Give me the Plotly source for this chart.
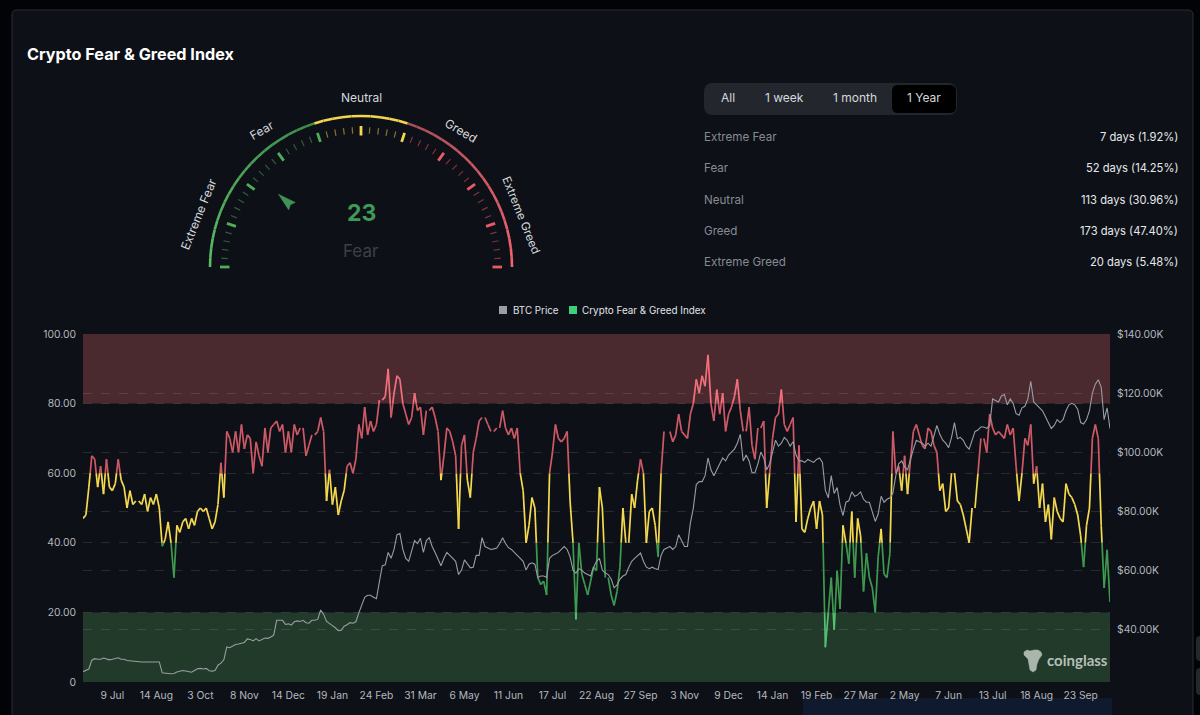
import math
import plotly.graph_objects as go

# ---------- data ----------
tick_labels = ["9 Jul","14 Aug","3 Oct","8 Nov","14 Dec","19 Jan","24 Feb","31 Mar","6 May","11 Jun",
               "17 Jul","22 Aug","27 Sep","3 Nov","9 Dec","14 Jan","19 Feb","27 Mar","2 May","7 Jun",
               "13 Jul","18 Aug","23 Sep"]
fng = [47,48,56,65,64,56,62,54,64,56,55,57,64,58,56,
       50,55,51,52,52,51,54,49,53,51,54,50,39,41,46,
       40,30,45,43,46,47,44,47,45,49,50,49,50,47,44,
       46,51,63,53,72,70,66,72,66,74,67,71,70,60,69,
       65,62,73,66,73,74,75,72,74,66,72,66,74,71,73,
       73,65,68,71,71,72,76,72,52,61,51,56,48,52,55,
       62,63,60,64,74,70,79,71,75,72,74,81,81,82,90,
       76,83,88,87,80,77,74,76,83,78,79,71,78,78,79,
       76,72,58,65,73,72,69,65,44,68,71,58,53,66,70,
       75,76,76,74,72,72,73,73,78,73,71,73,70,73,60,
       55,40,45,53,50,30,28,29,25,60,66,74,70,69,70,
       72,52,40,18,40,31,28,25,29,33,32,56,50,30,30,
       25,22,26,33,50,40,40,54,50,58,64,60,40,49,50,
       45,36,60,72,72,72,69,71,77,72,71,70,77,80,87,
       83,88,85,94,80,75,84,77,83,72,77,79,82,87,78,
       72,72,79,68,64,73,73,75,50,60,70,76,77,84,74,
       72,74,76,46,68,44,43,47,50,52,44,52,48,10,20,
       30,15,32,21,45,40,34,49,30,47,42,26,37,30,27,
       20,36,44,31,30,37,72,60,62,55,65,54,64,72,74,
       71,68,67,73,72,68,66,55,57,49,50,60,60,52,51,
       48,44,40,50,50,60,70,70,66,77,73,71,72,71,70,
       74,71,73,62,52,60,70,68,74,57,62,50,57,46,51,
       41,53,49,47,46,57,54,53,51,48,42,33,45,50,70,
       74,70,45,27,38,23]
btc_k = [25.6,26,26.5,29.5,30,29.8,29.8,30.2,29.9,29.6,29.8,30,30.3,29.8,29.8,
         29.4,29.3,29,29,28.8,28.9,28.9,28.9,29,29.1,29,28.9,25.2,25.2,25,
         24.9,25,25.5,25.7,26,25.8,25.5,25.4,26,26.6,26.7,26.5,26.7,25.9,25.8,
         26,27.8,28.5,29.6,34,33.7,34.3,34.8,35,35.2,35.5,36.7,36.5,36,36.8,
         36,36.5,37,36.9,37.3,38,43,43,43,41.6,41.8,41.4,42.5,42.8,42.6,
         43,42.2,42,43,43,43.3,46.5,45,42.6,42,41.2,40.5,39.5,39.6,41,
         41.5,42.2,42,42.5,45.5,48,50.8,51.5,51.5,50.8,50.3,56,61.5,61.8,66,
         64,67,72,72.4,67,64,63,66.5,70,69,70.8,66,70,71,68,
         66,64,61.5,64,66,65,64,63,58.5,60,63.5,62,60.8,61,65,
         65,71,68,67.5,67,67.2,67.5,69,71,69,67.6,67,66,65.3,64,
         63,60,62,62.5,62,57.5,58,58,57.5,64,65,65.5,66,67,68,
         67,64.5,60,59,60.5,60,59,58.5,58,61,63,64,60,59,58.5,
         57,54,55,57,58,58.5,61,63,64,65,65.8,63,61,60.5,61,
         60.5,60.2,65,67,67.5,68,67,68,72,70,68,68,76,81,89,
         90,90,92,98,94,92,94,96,98,97,99,100,101,103,106,
         97,99,97,93,93,96,100,98,94,96,100,104,102,103,105,
         104,102,103.5,99,97,97,96.5,97.5,97,96.5,97.5,98,96.5,87,84.5,
         92,86,88,82,78.5,83,83.5,86.5,85,85.5,86.5,84,83,83,80,
         76.5,79,85,83,84,84.5,86,92,96,97,95,94,98,101,104,
         103.5,103,102,103,102,106,109,106,104,103,101.5,105,110,104.5,105,
         104,102,101,104,107,107.5,108.5,108.5,108,109,118,117.5,117,119,119.5,
         116,118,116.5,113,112.5,115,115.5,118,124,117,116,115,114,112,110,
         108,109,111,110,111,114,116,116.5,116,114.5,110,109.5,111,114,120,
         123,124.5,122,111,115,108]
left_ticks = [0,20,40,60,80,100]
right_ticks_k = [40,60,80,100,120,140]
gauge_score = 23
gauge_state = "Fear"
gauge_labels = ["Extreme Fear","Fear","Neutral","Greed","Extreme Greed"]
period_buttons = ["All","1 week","1 month","1 Year"]
stat_names = ["Extreme Fear","Fear","Neutral","Greed","Extreme Greed"]
stat_values = ["7 days (1.92%)","52 days (14.25%)","113 days (30.96%)","173 days (47.40%)","20 days (5.48%)"]
assert len(fng) == len(btc_k), (len(fng), len(btc_k))

W, H = 1200, 715
CARD = "#0d1017"
FONT = "Inter"

# ---------- colour bands for the index line ----------
bands = [(0,20,"#55c070"),(20,40,"#3f9a50"),(40,60,"#f5d94e"),(60,80,"#cf5a66"),(80,100,"#f2707c")]
def band_series(lo, hi):
    xs, ys = [], []
    for i in range(len(fng)-1):
        a, b = fng[i], fng[i+1]
        ca = max(lo, min(hi, a)); cb = max(lo, min(hi, b))
        if b == a or ca == cb:
            continue
        ta = (ca-a)/(b-a); tb = (cb-a)/(b-a)
        xs += [i+ta, i+tb, None]; ys += [ca, cb, None]
    return xs, ys

fig = go.Figure()
idx = list(range(len(fng)))
fig.add_trace(go.Scatter(x=idx, y=btc_k, yaxis="y2", mode="lines", name="BTC Price",
                         line=dict(color="#9a9da3", width=1.1), hoverinfo="skip"))
for lo, hi, col in bands:
    xs, ys = band_series(lo, hi)
    fig.add_trace(go.Scatter(x=xs, y=ys, mode="lines", line=dict(color=col, width=1.7),
                             connectgaps=False, hoverinfo="skip", name="Crypto Fear & Greed Index",
                             showlegend=False))

# ---------- gauge (overlay axes in image units) ----------
CX, CY, R = 361, 267, 151
def pol(v, r):
    a = math.radians(180 - 1.8*v)
    return CX + r*math.cos(a), CY - r*math.sin(a)
def lerp(c1, c2, t):
    return "rgb(%d,%d,%d)" % tuple(c1[k]+(c2[k]-c1[k])*t for k in range(3))
def arc_color(v):
    if v < 40: return lerp((92,190,100),(62,140,78),v/40)
    if v < 60: return "#f2d650"
    return lerp((168,80,90),(245,100,112),(v-60)/40)
for v in range(0,100,2):
    x0,y0 = pol(v,R); xm,ym = pol(v+1,R); x1,y1 = pol(v+2,R)
    fig.add_trace(go.Scatter(x=[x0,xm,x1], y=[y0,ym,y1], xaxis="x3", yaxis="y3", mode="lines",
                             line=dict(color=arc_color(v+1), width=2.6), hoverinfo="skip", showlegend=False))
def tick_color(v):
    return (76,175,90) if v<=40 else ((245,215,80) if v<=60 else (235,90,100))
for v in range(0,101,2):
    major = v % 10 == 0
    r0, r1 = (131.5,141) if major else (133.5,140)
    x0,y0 = pol(v,r0); x1,y1 = pol(v,r1)
    c = tick_color(v); a = 1 if major else 0.5
    fig.add_trace(go.Scatter(x=[x0,x1], y=[y0,y1], xaxis="x3", yaxis="y3", mode="lines",
                             line=dict(color="rgba(%d,%d,%d,%s)"%(*c,a), width=2.8 if major else 1.2),
                             hoverinfo="skip", showlegend=False))
# pointer
tx,ty = pol(gauge_score,110); bx,by = pol(gauge_score,92)
a = math.radians(180-1.8*gauge_score); nx,ny = math.sin(a),math.cos(a)
fig.add_trace(go.Scatter(x=[tx,bx+nx*5,bx+(tx-bx)*0.12,bx-nx*5,tx],
                         y=[ty,by+ny*5,by+(ty-by)*0.12,by-ny*5,ty],
                         xaxis="x3", yaxis="y3", mode="lines", fill="toself", fillcolor="#3f9455",
                         line=dict(color="#3f9455", width=0.5), hoverinfo="skip", showlegend=False))
# watermark mark
fig.add_trace(go.Scatter(x=[1027,1030,1034,1038,1041,1042,1039,1037,1036,1033,1030,1029,1028,1024,1024,1027],
                         y=[650,651,650,650,652,655,659,664,670,672,670,664,659,655,652,650],
                         xaxis="x3", yaxis="y3", mode="lines", fill="toself", fillcolor="#aab6ac",
                         line=dict(color="#aab6ac", width=0.5), hoverinfo="skip", showlegend=False))

# ---------- layout helpers ----------
def X(p): return p/W
def Y(p): return 1-p/H
ann = []
def text(px, py, s, size=12, color="#fff", anchor="center", angle=0, font=FONT):
    ann.append(dict(x=X(px), y=Y(py), xref="paper", yref="paper", text=s, showarrow=False,
                    xanchor=anchor, yanchor="middle", textangle=angle, borderpad=0, borderwidth=0,
                    font=dict(size=size, color=color, family=font)))
def rrect(x0, y0, x1, y1, r):
    x0,x1 = X(x0),X(x1); y0,y1 = Y(y0),Y(y1)
    rx, ry = r/W, r/H
    return (f"M{x0+rx},{y0} L{x1-rx},{y0} Q{x1},{y0} {x1},{y0-ry} L{x1},{y1+ry} Q{x1},{y1} {x1-rx},{y1} "
            f"L{x0+rx},{y1} Q{x0},{y1} {x0},{y1+ry} L{x0},{y0-ry} Q{x0},{y0} {x0+rx},{y0} Z")
shapes = []
def pshape(path, fill, line="rgba(0,0,0,0)", lw=0, layer="below"):
    shapes.append(dict(type="path", path=path, xref="paper", yref="paper", fillcolor=fill,
                       line=dict(color=line, width=lw), layer=layer))
# card, bottom slider strip, side widgets
pshape(rrect(12,10,1193,730,5), CARD, "#2b2e34", 1)
pshape(rrect(803,698,1112,730,0), "#0f1a2e")
pshape(rrect(1196,636,1210,661,4), "#24272c")
pshape(rrect(1196,668,1210,695,4), "#24272c")
# period buttons
pshape(rrect(704,83,957,115,9), "#23272d")
pshape(rrect(892,85,956,113,6), "#000000")
# zones on the index axis
shapes.append(dict(type="rect", xref="x domain", yref="y", x0=0, x1=1, y0=80, y1=100,
                   fillcolor="rgba(240,110,115,0.27)", line=dict(width=0), layer="below"))
shapes.append(dict(type="rect", xref="x domain", yref="y", x0=0, x1=1, y0=0, y1=20,
                   fillcolor="rgba(100,200,110,0.23)", line=dict(width=0), layer="below"))
# legend squares
pshape(rrect(499,306,507,314,0), "#9a9da3", layer="above")
pshape(rrect(569,306,577,314,0), "#3ecf78", layer="above")

text(27,54,"<b>Crypto Fear &amp; Greed Index</b>",size=16.2,color="#ffffff",anchor="left")
text(199,214,gauge_labels[0],size=12,color="#d4d7db",angle=-68)
text(261,130,gauge_labels[1],size=12,color="#d4d7db",angle=-30)
text(361,97,gauge_labels[2],size=12,color="#d4d7db")
text(461,130,gauge_labels[3],size=12,color="#d4d7db",angle=30)
text(521,215,gauge_labels[4],size=11.7,color="#d4d7db",angle=68)
text(361,213,f"<b>{gauge_score}</b>",size=23,color="#3f9a55")
text(361,251,gauge_state,size=17,color="#3d4045")
for label, px, col in zip(period_buttons,[728,784,855,924],["#d6d9dd"]*4):
    text(px,98,label,size=12,color=col)
for name, val, py in zip(stat_names, stat_values, [137,168,200,231,262]):
    text(704,py,name,size=11.6,color="#868b92",anchor="left")
    text(1178,py,val,size=11.2,color="#e6e9ec",anchor="right")
text(513,310,"BTC Price",size=9.8,color="#e0e3e6",anchor="left")
text(582,310,"Crypto Fear &amp; Greed Index",size=9.9,color="#e0e3e6",anchor="left")
text(1047,660,"<b>coinglass</b>",size=15,color="#b5bfb7",anchor="left",font="Lato")

grid = dict(showgrid=True, gridcolor="rgba(255,255,255,0.11)", griddash="dash", gridwidth=0.7)
tickf = dict(size=10.3, color="#b4b8be", family=FONT)
tk = dict(ticks="outside", ticklen=4, tickcolor="rgba(0,0,0,0)")
fig.update_layout(
    width=W, height=H, margin=dict(l=0,r=0,t=0,b=0,autoexpand=False), autosize=False,
    paper_bgcolor="#020306", plot_bgcolor="rgba(0,0,0,0)", showlegend=False, hovermode=False,
    shapes=shapes, annotations=ann,
    xaxis=dict(domain=[X(83),X(1110)], range=[0,len(fng)-1], showgrid=False, zeroline=False,
               tickmode="array", tickvals=[10+15*k for k in range(len(tick_labels))], ticktext=tick_labels,
               tickfont=tickf, showline=False, **tk),
    yaxis=dict(domain=[Y(682),Y(334)], range=[0,100], tickmode="array", tickvals=left_ticks,
               ticktext=[f"{t:.2f}" if t else "0" for t in left_ticks], tickfont=tickf, zeroline=False,
               **tk, **grid),
    yaxis2=dict(domain=[Y(682),Y(334)], range=[22.1,140], overlaying="y", side="right", anchor="x",
                tickmode="array", tickvals=right_ticks_k, ticktext=[f"${t}.00K" for t in right_ticks_k],
                tickfont=tickf, zeroline=False, **tk, **grid),
    xaxis3=dict(domain=[0,1], range=[0,W], visible=False, anchor="y3", fixedrange=True),
    yaxis3=dict(domain=[0,1], range=[H,0], visible=False, anchor="x3", fixedrange=True),
)
fig.write_html("out.html", config=dict(displayModeBar=False),
               post_script="document.body.style.margin='0';document.body.style.background='#020306';document.body.style.overflow='hidden';")
